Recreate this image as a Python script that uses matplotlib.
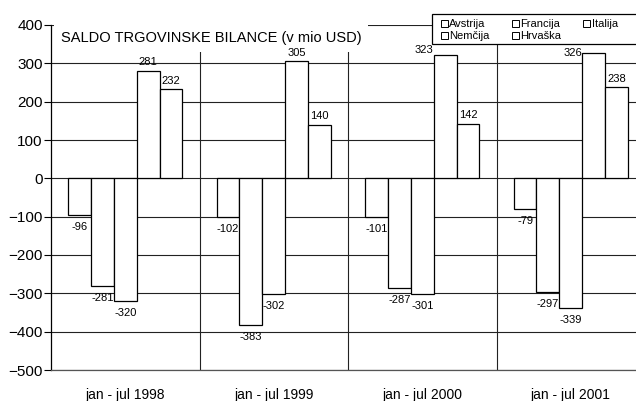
import numpy as np
import matplotlib
matplotlib.use('Agg')
import matplotlib.pyplot as plt
from matplotlib.patches import Rectangle

plt.rcParams['font.family'] = ['Liberation Sans', 'DejaVu Sans']

periods = ['jan - jul 1998', 'jan - jul 1999', 'jan - jul 2000', 'jan - jul 2001']
countries = ['Avstrija', 'Francija', 'Italija', 'Nemčija', 'Hrvaška']
avstrija = [-96, -102, -101, -79]
francija = [-281, -383, -287, -297]
italija = [-320, -302, -301, -339]
nemcija = [281, 305, 323, 326]
hrvaska = [232, 140, 142, 238]
series = [avstrija, francija, italija, nemcija, hrvaska]

# labels that sit beside the bar instead of on top (they would hit the legend)
side_labels = {(3, 2): 'bottom', (3, 3): 'center'}

W, H = 636, 401
fig = plt.figure(figsize=(W / 100, H / 100), dpi=100)
# axes runs past the right edge of the picture, like the original
ax = fig.add_axes([51 / W, 1 - 370 / H, (645 - 51) / W, 345 / H])

x = np.arange(len(periods))
bw = 0.154
for k, vals in enumerate(series):
    xs = x + (k - 2) * bw
    ax.bar(xs, vals, bw, color='white', edgecolor='black',
           linewidth=0.9, zorder=2, label=countries[k])
    for g, (xi, v) in enumerate(zip(xs, vals)):
        if (k, g) in side_labels:
            ax.annotate(str(v), (xi - bw / 2, v), xytext=(0, 0),
                        textcoords='offset points', ha='right',
                        va=side_labels[(k, g)], fontsize=8, zorder=6)
        elif v > 0:
            ax.annotate(str(v), (xi, v), xytext=(0, 2.5), textcoords='offset points',
                        ha='center', va='bottom', fontsize=8, zorder=6)
        else:
            ax.annotate(str(v), (xi, v), xytext=(0, -5), textcoords='offset points',
                        ha='center', va='top', fontsize=8, zorder=6)

ax.set_xlim(-0.5, len(periods) - 0.5)
ax.set_ylim(-500, 400)
ax.set_yticks(np.arange(-500, 401, 100))
ax.set_xticks(x)
ax.set_xticklabels(periods, fontsize=10)
ax.set_xticks(np.arange(0.5, len(periods) - 0.5, 1), minor=True)
ax.tick_params(axis='x', which='both', length=0, pad=13)
ax.tick_params(axis='y', direction='out', length=5, width=0.8, labelsize=11, pad=1)

ax.set_axisbelow(True)
ax.grid(axis='y', color='#222222', linewidth=0.8)
ax.grid(axis='x', which='minor', color='#222222', linewidth=0.8)

for s in ['top', 'right']:
    ax.spines[s].set_visible(False)
ax.spines['left'].set_linewidth(0.9)
ax.spines['bottom'].set_color('#555555')
ax.spines['bottom'].set_linewidth(0.9)

ax.text(0.0168, 0.962, 'SALDO TRGOVINSKE BILANCE (v mio USD)', transform=ax.transAxes,
        fontsize=10.5, ha='left', va='center', zorder=5,
        bbox=dict(boxstyle='square,pad=0.45', fc='white', ec='none'))

# legend box runs off the right edge
fig.patches.append(Rectangle((432 / W, 1 - 44 / H), (645 - 432) / W, 30 / H,
                             transform=fig.transFigure, fc='white', ec='black',
                             lw=0.9, zorder=4))
order = [0, 3, 1, 4, 2]
handles = [Rectangle((0, 0), 1, 1, fc='white', ec='black', lw=0.7) for _ in countries]
leg = fig.legend([handles[i] for i in order], [countries[i] for i in order],
                 ncol=3, loc='upper left', bbox_to_anchor=(441 / W, 1 - 19 / H),
                 fontsize=8, frameon=False, borderpad=0,
                 handlelength=0.6, handleheight=0.6, handletextpad=0.15,
                 labelspacing=0.2, borderaxespad=0, columnspacing=2.0)
leg.set_zorder(5)

fig.savefig('out.png', dpi=100)
